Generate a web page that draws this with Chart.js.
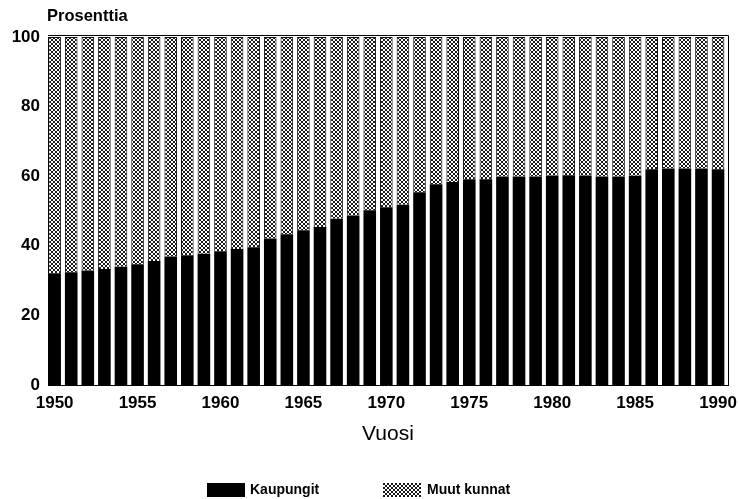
<!DOCTYPE html>
<html>
<head>
<meta charset="utf-8">
<script src="https://cdn.jsdelivr.net/npm/chart.js@4.4.0/dist/chart.umd.min.js"></script>
<style>
  html, body { margin: 0; padding: 0; background: #fff; }
  #wrap { width: 738px; height: 499px; }
</style>
</head>
<body>
<div id="wrap"><canvas id="myChart" width="738" height="499"></canvas></div>
<script>
// years on the x axis
const years = [1950,1951,1952,1953,1954,1955,1956,1957,1958,1959,
  1960,1961,1962,1963,1964,1965,1966,1967,1968,1969,
  1970,1971,1972,1973,1974,1975,1976,1977,1978,1979,
  1980,1981,1982,1983,1984,1985,1986,1987,1988,1989,1990];
// share of population living in towns (%)
const kaupungit = [32.1,32.4,32.9,33.3,34.0,34.7,35.6,36.9,37.3,37.7,
  38.4,39.1,39.6,42.1,43.3,44.5,45.4,47.8,48.7,50.2,
  51.1,51.8,55.4,57.7,58.3,59.1,59.1,59.9,59.9,59.9,
  60.2,60.3,60.2,59.9,59.9,60.1,62.0,62.2,62.2,62.2,62.0];
// the rest, other municipalities
const muutKunnat = kaupungit.map(v => +(100 - v).toFixed(1));
const xTicks = [1950,1955,1960,1965,1970,1975,1980,1985,1990];
const yTicks = [0,20,40,60,80,100];
const seriesNames = ['Kaupungit', 'Muut kunnat'];

// little crosshatch tile for the "Muut kunnat" bars
function hatch(){
  const c = document.createElement('canvas');
  c.width = 4; c.height = 4;
  const g = c.getContext('2d');
  g.fillStyle = '#fff';
  g.fillRect(0,0,4,4);
  g.fillStyle = '#1a1a1a';
  [[0,0],[1,1],[2,2],[3,3],[3,0],[0,3],[2,1],[1,2]].forEach(p => g.fillRect(p[0],p[1],1,1));
  return g.createPattern(c, 'repeat');
}
const hatchPattern = hatch();

const frameAndText = {
  id: 'frameAndText',
  afterDatasetsDraw(chart){
    const {ctx, chartArea} = chart;
    ctx.save();
    ctx.strokeStyle = '#000';
    ctx.lineWidth = 1;
    ctx.beginPath();
    ctx.moveTo(chartArea.left, chartArea.top - 1.5);
    ctx.lineTo(chartArea.right + 0.5, chartArea.top - 1.5);
    ctx.lineTo(chartArea.right + 0.5, chartArea.bottom);
    ctx.stroke();
    ctx.restore();
  },
  afterDraw(chart){
    const ctx = chart.ctx;
    ctx.save();
    ctx.fillStyle = '#000';
    ctx.textBaseline = 'middle';
    ctx.font = 'bold 16.5px "Liberation Sans", Arial, sans-serif';
    ctx.fillText('Prosenttia', 47, 16);
    // legend
    const items = [
      {x: 207, tx: 250, ds: chart.data.datasets[0]},
      {x: 383, tx: 427, ds: chart.data.datasets[1]}
    ];
    ctx.font = 'bold 14px "Liberation Sans", Arial, sans-serif';
    items.forEach(it => {
      ctx.fillStyle = it.ds.backgroundColor;
      ctx.fillRect(it.x, 483, 38, 14);
      ctx.fillStyle = '#000';
      ctx.fillText(it.ds.label, it.tx, 490);
    });
    ctx.restore();
  }
};

const data = {
  datasets: [{
    label: seriesNames[0],
    data: years.map((y, i) => ({x: y, y: kaupungit[i]})),
    backgroundColor: '#000',
    borderWidth: 0,
    categoryPercentage: 1,
    barPercentage: 0.76
  }, {
    label: seriesNames[1],
    data: years.map((y, i) => ({x: y, y: muutKunnat[i]})),
    backgroundColor: hatchPattern,
    borderColor: '#111',
    borderWidth: 1,
    categoryPercentage: 1,
    barPercentage: 0.76
  }]
};

const config = {
  type: 'bar',
  data: data,
  plugins: [frameAndText],
  options: {
    responsive: false,
    animation: false,
    devicePixelRatio: 1,
    layout: { padding: { left: 0, right: 0, top: 37, bottom: 44 } },
    plugins: {
      legend: { display: false },
      tooltip: { enabled: false }
    },
    scales: {
      x: {
        type: 'linear',
        stacked: true,
        offset: false,
        min: 1949.6,
        max: 1990.6,
        afterBuildTicks: s => { s.ticks = xTicks.map(v => ({value: v})); },
        afterFit: s => { s.height = 70; s.paddingLeft = 0; s.paddingRight = 10; },
        grid: { display: false, drawTicks: false, offset: false },
        border: { display: true, color: '#000', width: 1 },
        ticks: {
          color: '#000',
          padding: 8,
          maxRotation: 0,
          autoSkip: false,
          font: { family: '"Liberation Sans", Arial, sans-serif', size: 17, weight: 'bold' },
          callback: v => String(v)
        },
        title: {
          display: true,
          text: 'Vuosi',
          color: '#000',
          padding: { top: 0, bottom: 8 },
          font: { family: '"Liberation Sans", Arial, sans-serif', size: 21 }
        }
      },
      y: {
        stacked: true,
        min: 0,
        max: 100,
        afterBuildTicks: s => { s.ticks = yTicks.map(v => ({value: v})); },
        afterFit: s => { s.width = 48; },
        grid: { display: false, drawTicks: false },
        border: { display: true, color: '#000', width: 1 },
        ticks: {
          color: '#000',
          padding: 8,
          font: { family: '"Liberation Sans", Arial, sans-serif', size: 17, weight: 'bold' }
        }
      }
    }
  }
};

new Chart(document.getElementById('myChart'), config);
</script>
</body>
</html>
